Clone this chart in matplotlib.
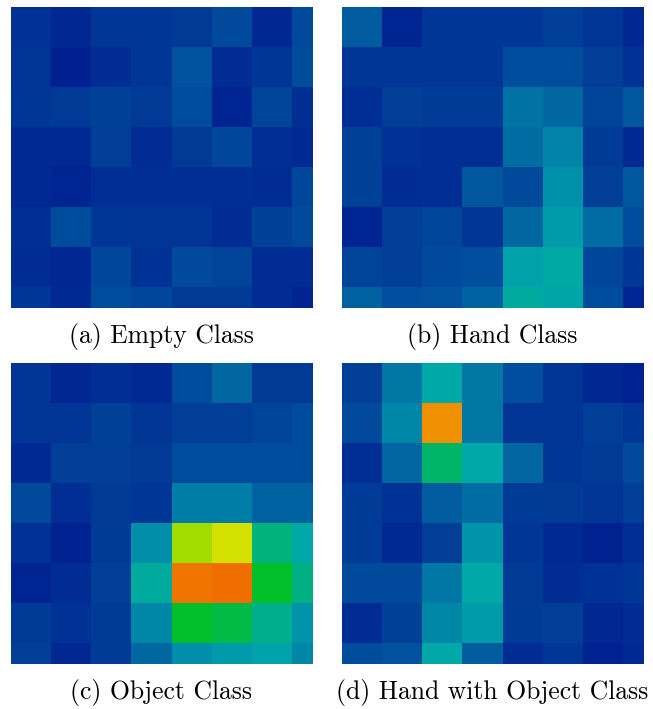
import numpy as np
import matplotlib
matplotlib.use("Agg")
import matplotlib.pyplot as plt
from matplotlib.colors import LinearSegmentedColormap

# Activation maps per class (8x8 grid, rows top to bottom)
empty_class = [
    [0.08, 0.04, 0.10, 0.10, 0.11, 0.17, 0.04, 0.17],
    [0.09, 0.01, 0.06, 0.10, 0.20, 0.06, 0.10, 0.18],
    [0.10, 0.11, 0.14, 0.11, 0.18, 0.03, 0.15, 0.07],
    [0.05, 0.05, 0.13, 0.06, 0.11, 0.16, 0.07, 0.05],
    [0.05, 0.03, 0.07, 0.07, 0.07, 0.07, 0.06, 0.16],
    [0.07, 0.18, 0.10, 0.09, 0.09, 0.06, 0.14, 0.17],
    [0.06, 0.04, 0.16, 0.08, 0.17, 0.15, 0.06, 0.06],
    [0.10, 0.05, 0.18, 0.16, 0.11, 0.11, 0.06, 0.03],
]
hand_class = [
    [0.24, 0.03, 0.10, 0.10, 0.10, 0.13, 0.09, 0.04],
    [0.10, 0.10, 0.10, 0.10, 0.18, 0.18, 0.13, 0.08],
    [0.07, 0.13, 0.12, 0.12, 0.32, 0.28, 0.15, 0.22],
    [0.14, 0.08, 0.07, 0.07, 0.30, 0.37, 0.12, 0.05],
    [0.14, 0.06, 0.07, 0.22, 0.17, 0.41, 0.13, 0.22],
    [0.03, 0.13, 0.16, 0.09, 0.28, 0.45, 0.30, 0.18],
    [0.15, 0.13, 0.17, 0.19, 0.48, 0.51, 0.16, 0.10],
    [0.25, 0.19, 0.20, 0.26, 0.52, 0.49, 0.18, 0.03],
]
object_class = [
    [0.09, 0.04, 0.07, 0.05, 0.18, 0.28, 0.11, 0.11],
    [0.09, 0.09, 0.14, 0.09, 0.13, 0.13, 0.15, 0.18],
    [0.05, 0.13, 0.13, 0.11, 0.18, 0.18, 0.18, 0.18],
    [0.17, 0.07, 0.11, 0.10, 0.35, 0.35, 0.26, 0.26],
    [0.08, 0.02, 0.12, 0.40, 0.76, 0.82, 0.58, 0.50],
    [0.03, 0.06, 0.13, 0.52, 0.95, 0.97, 0.66, 0.57],
    [0.12, 0.08, 0.12, 0.38, 0.66, 0.63, 0.55, 0.42],
    [0.13, 0.04, 0.12, 0.28, 0.40, 0.45, 0.48, 0.38],
]
hand_object_class = [
    [0.13, 0.33, 0.50, 0.33, 0.19, 0.09, 0.04, 0.02],
    [0.17, 0.38, 0.88, 0.33, 0.09, 0.09, 0.13, 0.10],
    [0.07, 0.27, 0.60, 0.50, 0.27, 0.10, 0.11, 0.17],
    [0.12, 0.08, 0.24, 0.30, 0.12, 0.11, 0.09, 0.13],
    [0.12, 0.05, 0.13, 0.42, 0.10, 0.05, 0.02, 0.07],
    [0.17, 0.17, 0.33, 0.50, 0.11, 0.06, 0.08, 0.10],
    [0.06, 0.14, 0.38, 0.45, 0.12, 0.13, 0.04, 0.06],
    [0.18, 0.20, 0.50, 0.24, 0.06, 0.10, 0.02, 0.05],
]
captions = ["(a) Empty Class", "(b) Hand Class",
            "(c) Object Class", "(d) Hand with Object Class"]

stops = [
    (0.00, (0, 30, 145)),
    (0.10, (0, 55, 150)),
    (0.20, (0, 82, 158)),
    (0.30, (0, 110, 163)),
    (0.40, (0, 142, 170)),
    (0.50, (0, 168, 170)),
    (0.58, (0, 178, 125)),
    (0.66, (0, 192, 40)),
    (0.76, (160, 220, 0)),
    (0.82, (212, 225, 0)),
    (0.88, (240, 145, 0)),
    (1.00, (240, 100, 0)),
]
cmap = LinearSegmentedColormap.from_list(
    "act", [(v, tuple(c / 255 for c in rgb)) for v, rgb in stops])

W, H = 653, 709
fig = plt.figure(figsize=(W / 100, H / 100), dpi=100)

# panel boxes in pixels: left, top, size
boxes = [(11, 7), (342, 7), (11, 363), (342, 363)]
size = 301
caption_y = [337, 337, 692, 692]

for data, (lx, ty), cap, cy in zip(
        [empty_class, hand_class, object_class, hand_object_class],
        boxes, captions, caption_y):
    ax = fig.add_axes([lx / W, (H - ty - size) / H, size / W, size / H])
    arr = np.array(data)
    ax.imshow(arr, cmap=cmap, vmin=0, vmax=1, interpolation="nearest",
              extent=[0, 8, 8, 0], aspect="auto")
    ax.set_xlim(0, 7.52)
    ax.set_ylim(7.52, 0)
    ax.axis("off")
    fig.text((lx + size / 2) / W, 1 - cy / H, cap, ha="center", va="center",
             fontsize=18.5, family="cmr10")

fig.savefig("out.png", dpi=100)
